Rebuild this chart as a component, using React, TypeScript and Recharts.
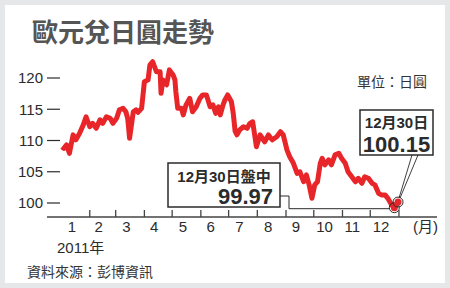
import { LineChart, Line, XAxis, YAxis, ReferenceDot } from 'recharts';

// EUR/JPY 2011 (day of year, yen per euro)
const days = [
  1, 3, 6, 9, 13, 16, 20, 24, 27, 31, 34, 38, 42, 45, 49, 53, 56, 60, 63, 67,
  70, 72, 74, 78, 81, 83, 87, 90, 94, 96, 99, 103, 107, 108, 110, 114, 117, 121,
  123, 124, 126, 130, 132, 135, 139, 142, 146, 150, 153, 157, 161, 164, 167, 170,
  172, 175, 177, 180, 184, 186, 188, 190, 193, 197, 201, 204, 207, 211, 215, 220,
  224, 228, 233, 237, 240, 244, 247, 251, 255, 258, 262, 265, 268, 271, 274, 277,
  280, 282, 285, 289, 292, 296, 300, 303, 307, 310, 314, 318, 321, 325, 328, 332,
  336, 339, 343, 346, 350, 353, 357, 360, 364,
];
const rates = [
  109.0, 108.75, 109.3, 107.95, 110.9, 110.1, 111.15, 112.5, 113.8, 112.2, 112.75, 111.95,
  113.3, 112.75, 113.8, 113.55, 112.75, 113.55, 114.9, 115.15,
  114.6, 113.5, 110.35, 114.6, 114.9, 114.5, 115.15, 119.4, 119.7, 122.1, 122.6, 121.0,
  121.0, 117.55, 119.7, 118.9, 121.3, 120.5,
  119.7, 117.8, 115.15, 115.15, 114.1, 115.7, 116.75, 114.6, 115.4, 116.75, 117.3, 117.3,
  115.4, 115.7, 114.35, 115.4,
  114.1, 115.7, 116.5, 117.3, 116.2, 114.35, 111.5, 110.9, 111.7, 112.2, 111.95, 112.75,
  113.0, 109.0, 110.9, 109.8,
  110.9, 110.1, 110.6, 111.4, 110.9, 108.5, 107.4, 106.35, 104.75, 105.0, 103.4, 104.5,
  102.9, 100.75, 102.9, 103.4,
  106.35, 107.15, 106.1, 106.9, 106.1, 107.7, 107.95, 107.15, 106.35, 105.0, 104.2, 103.4,
  103.95, 103.15, 104.2, 103.95,
  103.15, 102.9, 101.55, 101.3, 101.3, 100.75, 99.7, 99.25, 100.15,
];

const monthEnds = [31, 59, 90, 120, 151, 181, 212, 243, 273, 304, 334, 365];
const monthMids = [16, 45, 75, 105, 136, 166, 197, 228, 258, 289, 319, 350];
const monthLabels = ['1', '2', '3', '4', '5', '6', '7', '8', '9', '10', '11', '12'];
const yTicks = [100, 105, 110, 115, 120];

const data = days.map((d, i) => ({ day: d, rate: rates[i] }));
const intraday = data[data.length - 2];
const close = data[data.length - 1];

const RED = '#e8262a';
const INK = '#2b2b2b';
const NUM = '"Liberation Sans", Arial, sans-serif';
const CJK = '"Liberation Sans", "Noto Sans CJK TC", sans-serif';

function YTick({ x, y, payload }: any) {
  return (
    <g>
      <text x={x - 4} y={y} dy="0.36em" textAnchor="end" fontSize={15} fontFamily={NUM} fill={INK}>
        {payload.value}
      </text>
      <line x1={x} x2={x + 13} y1={y} y2={y} stroke={INK} strokeWidth={1.2} />
    </g>
  );
}

function MonthTick({ x, y, payload }: any) {
  const v = payload.value;
  if (monthEnds.includes(v)) {
    return <line x1={x} x2={x} y1={y} y2={y - 7} stroke="#444" strokeWidth={1.3} />;
  }
  const i = monthMids.indexOf(v);
  return (
    <text x={x - 4} y={y + 10} dy="0.36em" textAnchor="middle" fontSize={15} fontFamily={NUM} fill={INK}>
      {monthLabels[i]}
    </text>
  );
}

function Marker({ cx, cy }: { cx: number; cy: number }) {
  return (
    <g>
      <circle cx={cx} cy={cy} r={3.5} fill={RED} />
      <circle cx={cx} cy={cy} r={5} fill="none" stroke={INK} strokeWidth={1} />
    </g>
  );
}

function IntradayCallout(p: any) {
  const { cx, cy } = p;
  return (
    <g>
      <polyline
        points={`280,196 289,196 289,${cy + 1} ${cx - 5},${cy + 1}`}
        fill="none"
        stroke={INK}
        strokeWidth={1}
      />
      <rect x={168} y={163} width={112} height={44} fill="#fff" stroke={INK} strokeWidth={1.5} />
      <text x={224} y={177} dy="0.36em" textAnchor="middle" fontSize={15} fontWeight="bold" fontFamily={CJK} fill={INK}>
        12月30日盤中
      </text>
      <text x={273} y={196} dy="0.36em" textAnchor="end" fontSize={22} fontWeight="bold" fontFamily={NUM} fill={INK}>
        99.97
      </text>
      <Marker cx={cx} cy={cy} />
    </g>
  );
}

function CloseCallout(p: any) {
  const { cx, cy } = p;
  return (
    <g>
      <line x1={412} y1={155} x2={cx + 1} y2={cy - 4} stroke={INK} strokeWidth={0.9} />
      <line x1={418} y1={155} x2={cx + 2} y2={cy - 4} stroke={INK} strokeWidth={0.9} />
      <rect x={360} y={110} width={73} height={45} fill="#fff" stroke={INK} strokeWidth={1.5} />
      <text x={396.5} y={123} dy="0.36em" textAnchor="middle" fontSize={15} fontWeight="bold" fontFamily={CJK} fill={INK}>
        12月30日
      </text>
      <text x={396.5} y={144} dy="0.36em" textAnchor="middle" fontSize={22} fontWeight="bold" fontFamily={NUM} fill={INK}>
        100.15
      </text>
      <Marker cx={cx} cy={cy} />
    </g>
  );
}

export default function App() {
  return (
    <div style={{ position: 'absolute', left: 0, top: 0, width: 450, height: 288, background: '#e6e7e8' }}>
      <div style={{ position: 'absolute', left: 5, top: 5, width: 440, height: 278, background: '#fff' }} />
      <div style={{ position: 'absolute', left: 0, top: 0 }}>
        <LineChart width={450} height={288} data={data} margin={{ top: 55, right: 13, bottom: 0, left: 0 }}>
          <XAxis
            dataKey="day"
            type="number"
            domain={[-15.2, 406.1]}
            allowDataOverflow
            ticks={[...monthEnds, ...monthMids]}
            interval={0}
            height={71}
            tickLine={false}
            tickSize={0}
            tickMargin={0}
            axisLine={{ stroke: '#444', strokeWidth: 1.5 }}
            tick={(props: any) => <MonthTick {...props} />}
          />
          <YAxis
            type="number"
            domain={[97.76, 123.68]}
            allowDataOverflow
            ticks={yTicks}
            width={47}
            axisLine={false}
            tickLine={false}
            tickSize={0}
            tickMargin={0}
            tick={(props: any) => <YTick {...props} />}
          />
          <Line
            type="linear"
            dataKey="rate"
            stroke={RED}
            strokeWidth={5}
            strokeLinejoin="round"
            dot={false}
            isAnimationActive={false}
          />
          <ReferenceDot x={intraday.day} y={intraday.rate} r={4} shape={(p: any) => <IntradayCallout {...p} />} />
          <ReferenceDot x={close.day} y={close.rate} r={4} shape={(p: any) => <CloseCallout {...p} />} />
        </LineChart>
      </div>
      <svg width={450} height={288} style={{ position: 'absolute', left: 0, top: 0, pointerEvents: 'none' }}>
        <text x={32} y={41.5} fontSize={26} fontWeight="bold" fontFamily={CJK} fill="#555">
          歐元兌日圓走勢
        </text>
        <text x={357} y={87} fontSize={14} fontFamily={CJK} fill="#333">
          單位：日圓
        </text>
        <text x={413} y={227} dy="0.36em" fontSize={15} fontFamily={CJK} fill={INK}>
          (月)
        </text>
        <text x={57} y={253} fontSize={15} fontFamily={CJK} fill={INK}>
          2011年
        </text>
        <text x={27} y={277} fontSize={14} fontFamily={CJK} fill="#333">
          資料來源：彭博資訊
        </text>
      </svg>
    </div>
  );
}
